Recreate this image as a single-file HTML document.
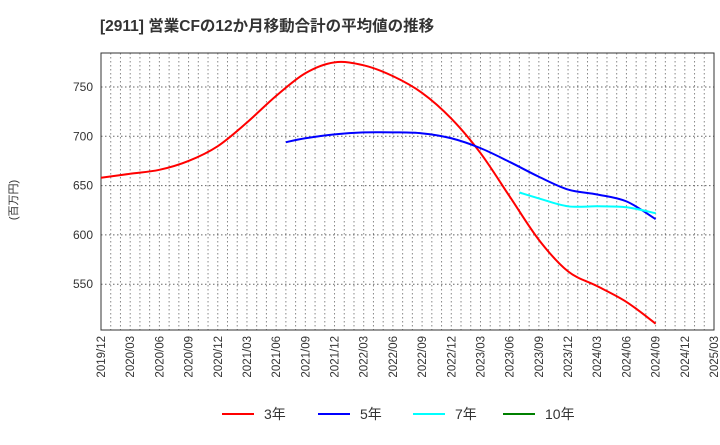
<!DOCTYPE html>
<html><head><meta charset="utf-8"><style>
body{margin:0;background:#fff;font-family:"Liberation Sans","Noto Sans CJK JP",sans-serif}
</style></head><body>
<svg id="c" width="720" height="440" xmlns="http://www.w3.org/2000/svg">
<text x="100" y="31" font-size="15.5" font-weight="bold" fill="#333">[2911]  営業CFの12か月移動合計の平均値の推移</text>
<text x="17" y="200" font-size="11" fill="#333" transform="rotate(-90 17 200)" text-anchor="middle">(百万円)</text>
<g id="grid"></g><g id="axes"></g><g id="series"></g><g id="legend"></g>
</svg>
<script>
const ticksY=[550,600,650,700,750];
const xLabels=["2019/12","2020/03","2020/06","2020/09","2020/12","2021/03","2021/06","2021/09","2021/12","2022/03","2022/06","2022/09","2022/12","2023/03","2023/06","2023/09","2023/12","2024/03","2024/06","2024/09","2024/12","2025/03"];
// month index from 2019/12
const m3=[0,3,6,9,12,15,18,21,24,27,30,33,36,39,42,45,48,51,54,57];
const v3=[658,662,666,675,690,714,741,764,775,772,761,744,718,683,639,595,563,548,532,510];
const m5=[19,21,24,27,30,33,36,39,42,45,48,51,54,57];
const v5=[694,698,702,704,704,703,698,688,674,659,646,641,634,616];
const m7=[43,45,48,51,54,57];
const v7=[643,637,629,629,628,622];
const m10=[];const v10=[];
const L=101,R=714,T=53,B=330;
const X=m=>L+m*(R-L)/63;
const Y=v=>87+(750-v)*49.3/50;
const NS="http://www.w3.org/2000/svg";
function mk(p,t,a){const e=document.createElementNS(NS,t);for(const k in a)e.setAttribute(k,a[k]);document.getElementById(p).appendChild(e);return e;}
for(let m=1;m<63;m++){const l=mk('grid','line',{x1:X(m),x2:X(m),y1:T,y2:B,stroke:'#888','stroke-dasharray':'1.5,2.5','stroke-width':1});

}
ticksY.forEach(v=>{const l=mk('grid','line',{x1:L,x2:R,y1:Y(v),y2:Y(v),stroke:'#666','stroke-dasharray':'1.5,2.5'});


const t=mk('axes','text',{x:L-8,y:Y(v)+4,'text-anchor':'end','font-size':12,fill:'#333'});t.textContent=v;

});
const fr=mk('axes','rect',{x:L,y:T,width:R-L,height:B-T,fill:'none',stroke:'#333'});


xLabels.forEach((s,i)=>{const x=X(i*3);const t=mk('axes','text',{x:x+4,y:B+6,'text-anchor':'end','font-size':11.5,fill:'#333',transform:`rotate(-90 ${x+4} ${B+6})`});t.textContent=s;

});
function path(ms,vs){const p=ms.map((m,i)=>[X(m),Y(vs[i])]);if(!p.length)return'';let d=`M${p[0][0]},${p[0][1]}`;
for(let i=0;i<p.length-1;i++){const p0=p[i-1]||p[i],p1=p[i],p2=p[i+1],p3=p[i+2]||p2;
d+=` C${p1[0]+(p2[0]-p0[0])/6},${p1[1]+(p2[1]-p0[1])/6} ${p2[0]-(p3[0]-p1[0])/6},${p2[1]-(p3[1]-p1[1])/6} ${p2[0]},${p2[1]}`;}return d;}
[[m3,v3,'#ff0000','series-3y'],[m5,v5,'#0000ff','series-5y'],[m7,v7,'#00ffff','series-7y'],[m10,v10,'#008000','series-10y']].forEach(s=>{if(!s[0].length)return;
const e=mk('series','path',{d:path(s[0],s[1]),fill:'none',stroke:s[2],'stroke-width':2});

});
[['3年','#ff0000',222],['5年','#0000ff',318],['7年','#00ffff',413],['10年','#008000',503]].forEach(g=>{
const l=mk('legend','line',{x1:g[2],x2:g[2]+32,y1:414,y2:414,stroke:g[1],'stroke-width':2});


const t=mk('legend','text',{x:g[2]+42,y:419,'font-size':14,fill:'#333'});t.textContent=g[0];

});
</script>
</body></html>
